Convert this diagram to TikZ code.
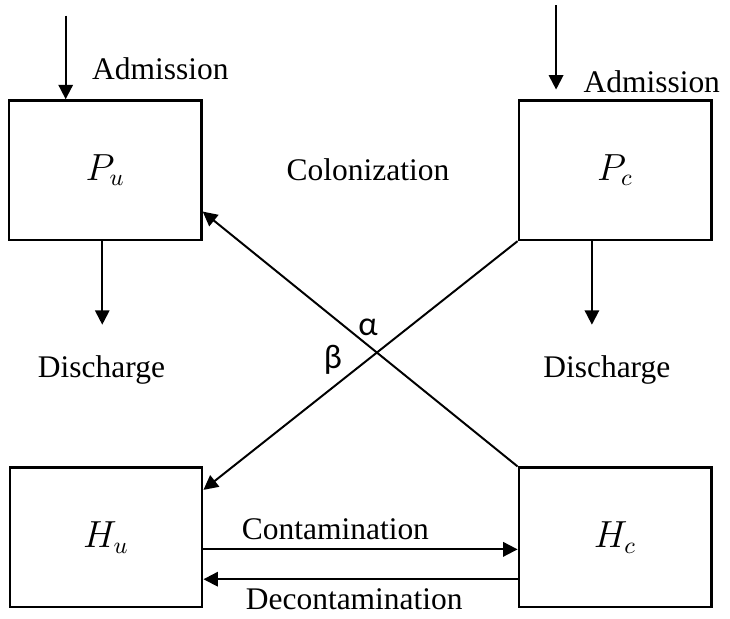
\documentclass[tikz,border=0pt]{standalone}
\usepackage{fontspec}
\setmainfont{Liberation Serif}
\newfontfamily\greekfont{Carlito}
\usetikzlibrary{arrows.meta, positioning, calc}

\begin{document}
\begin{tikzpicture}[
    >={Triangle[length=5.5pt, width=5.5pt]},
    font=\fontsize{12}{14}\selectfont,
    compartment/.style={draw, rectangle, minimum width=2.58cm, minimum height=1.87cm,
                        line width=0.9pt, inner sep=0pt,
                        font=\fontsize{13.5}{15}\selectfont},
    flow/.style={->, line width=0.75pt},
    flowlabel/.style={font=\fontsize{12}{14}\selectfont},
    rate/.style={font=\greekfont\fontsize{13}{15}\selectfont},
]

% fixed page size (reference proportions)
\useasboundingbox (0, 0) rectangle (9.78, -8.29);

% ============================================================
% COMPARTMENTS
% ============================================================

% --- Patients ---
\node[compartment] (pu) at (1.41, -2.28) {$P_u$};
\node[compartment] (pc) at (8.24, -2.28) {$P_c$};

% --- Health care workers ---
\node[compartment] (hu) at (1.42, -7.20) {$H_u$};
\node[compartment] (hc) at (8.24, -7.20) {$H_c$};

% ============================================================
% ADMISSION / DISCHARGE
% ============================================================

\coordinate (inu) at (0.88, -0.21);
\coordinate (inc) at (7.45, -0.07);
\coordinate (inc-end) at (7.45, -1.20);

\draw[flow] (inu) -- (inu |- pu.north);
\draw[flow] (inc) -- (inc-end);

\node[flowlabel, anchor=base west] (admu) at (1.11, -1.07) {Admission};
\node[flowlabel, anchor=base east] (admc) at (9.77, -1.245) {Admission};

\coordinate (outu) at (1.37, -4.35);
\coordinate (outc) at (7.93, -4.35);

\draw[flow] (outu |- pu.south) -- (outu);
\draw[flow] (outc |- pc.south) -- (outc);

\node[flowlabel, anchor=base] (disu) at (1.36, -5.06) {Discharge};
\node[flowlabel, anchor=base] (disc) at (8.13, -5.06) {Discharge};

% ============================================================
% COLONIZATION (crossing lines)
% ============================================================

\node[flowlabel] (colon) at (4.93, -2.28) {Colonization};

\draw[flow] (hc.north west) -- (pu.-23);
\draw[flow] (pc.south west) -- (hu.26);

\node[rate] (alpha) at (4.93, -4.38) {α};
\node[rate] (beta) at (4.46, -4.82) {β};

% ============================================================
% CONTAMINATION / DECONTAMINATION
% ============================================================

\draw[flow] ([yshift=-0.16cm]hu.east) --
    node[flowlabel, above, pos=0.42] {Contamination} ([yshift=-0.16cm]hc.west);
\draw[flow] ([yshift=-0.56cm]hc.west) --
    node[flowlabel, below, pos=0.52] {Decontamination} ([yshift=-0.56cm]hu.east);

\end{tikzpicture}
\end{document}
